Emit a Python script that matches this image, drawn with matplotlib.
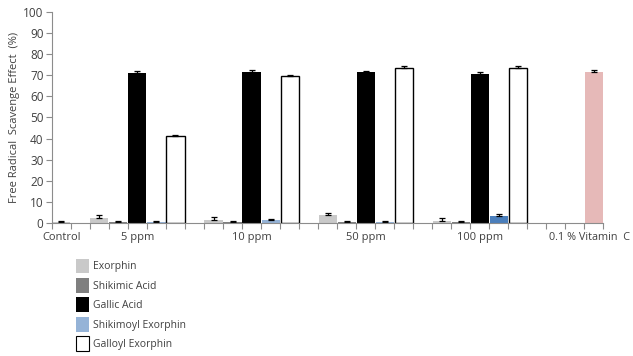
import numpy as np
import matplotlib
matplotlib.use("Agg")
import matplotlib.pyplot as plt
from matplotlib.patches import Patch

plt.rcParams['font.family'] = ['Open Sans', 'DejaVu Sans']

# ------------------------
# data
# ------------------------
groups = ['5 ppm', '10 ppm', '50 ppm', '100 ppm']
series = ['Exorphin', 'Shikimic Acid', 'Gallic Acid', 'Shikimoyl Exorphin', 'Galloyl Exorphin']

exorphin = [2.3, 1.5, 3.5, 1.0]
exorphin_err = [1.2, 1.2, 1.0, 1.3]
shikimic = [0.3, 0.3, 0.3, 0.3]
shikimic_err = [0.4, 0.4, 0.4, 0.4]
gallic = [71.0, 71.5, 71.5, 70.5]
gallic_err = [0.9, 0.8, 0.7, 1.1]
shikimoyl = [0.3, 1.2, 0.3, 3.1]
shikimoyl_err = [0.4, 0.7, 0.4, 1.3]
galloyl = [41.2, 69.5, 73.6, 73.6]
galloyl_err = [0.6, 0.8, 0.7, 0.7]

control = 0.3
control_err = 0.4
vitc = 71.5
vitc_err = 0.8

colors = ['#c9c9c9', '#7f7f7f', '#000000', '#95b3d7', '#ffffff']
shikimoyl_colors = ['#95b3d7', '#95b3d7', '#95b3d7', '#4a7ebb']
vitc_color = '#e6b9b8'

# ------------------------
# layout: one slot per bar, like the Excel original
# ------------------------
n_slots = 29
group_start = [2, 8, 14, 20]
control_slot = 0
vitc_slot = 28

fig = plt.figure(figsize=(6.33, 3.56), dpi=100)
ax = fig.add_axes([0.082, 0.374, 0.871, 0.592])

w = 0.95
ekw = dict(ecolor='black', elinewidth=0.9, capsize=2.5, capthick=0.9)

def bars(x, vals, errs, color, edge=None):
    x = np.asarray(x, dtype=float) + 0.5
    vals = np.asarray(vals)
    errs = np.asarray(errs)
    ax.bar(x, vals, width=w, color=color,
           edgecolor=edge if edge else 'none', linewidth=1.0 if edge else 0,
           yerr=[np.zeros_like(errs), errs], error_kw=ekw, zorder=2)

all_vals = [exorphin, shikimic, gallic, shikimoyl, galloyl]
all_errs = [exorphin_err, shikimic_err, gallic_err, shikimoyl_err, galloyl_err]
for i, (vals, errs) in enumerate(zip(all_vals, all_errs)):
    xs = [g + i for g in group_start]
    if i == 3:
        bars(xs, vals, errs, shikimoyl_colors)
    elif i == 4:
        bars(xs, vals, errs, colors[i], edge='black')
    else:
        bars(xs, vals, errs, colors[i])

bars([control_slot], [control], [control_err], colors[0])
bars([vitc_slot], [vitc], [vitc_err], vitc_color)

# ------------------------
# axes styling
# ------------------------
ax.set_xlim(0, n_slots)
ax.set_ylim(0, 100)
ax.set_yticks(np.arange(0, 101, 10))
ax.set_xticks(np.arange(0, n_slots + 1))
ax.set_xticklabels([])
for s in ['top', 'right']:
    ax.spines[s].set_visible(False)
for s in ['left', 'bottom']:
    ax.spines[s].set_color('#8c8c8c')
    ax.spines[s].set_linewidth(0.8)
ax.tick_params(axis='both', colors='#8c8c8c', length=4, width=0.8, direction='out')
ax.tick_params(axis='y', labelcolor='#404040', labelsize=8.5, pad=2)
ax.set_ylabel('Free Radical  Scavenge Effect  (%)', fontsize=8, color='#404040', labelpad=2)

cat_labels = ['Control'] + groups
cat_pos = [control_slot + 0.5] + [g + 2.5 for g in group_start]
for lab, p in zip(cat_labels, cat_pos):
    ax.text(p, -4.5, lab, ha='center', va='top', fontsize=8, color='#404040',
            clip_on=False)
# last label sits against the right edge in the original
ax.text(30.4, -4.5, '0.1 % Vitamin  C', ha='right', va='top', fontsize=7.8,
        color='#404040', clip_on=False)

handles = [Patch(facecolor=c, edgecolor='black' if c == '#ffffff' else 'none', linewidth=0.8)
           for c in colors]
fig.legend(handles, series, loc='upper left', bbox_to_anchor=(0.105, 0.3),
           frameon=False, fontsize=7.5, labelcolor='#404040',
           handlelength=1.25, handleheight=1.8, handletextpad=0.35, labelspacing=0.45)

fig.savefig('out.png', dpi=100)
